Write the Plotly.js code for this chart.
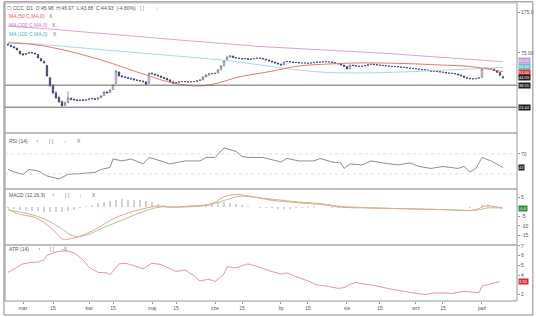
<!DOCTYPE html>
<html><head><meta charset="utf-8">
<script src="https://cdn.plot.ly/plotly-3.0.1.min.js"></script>
<style>html,body{margin:0;padding:0;background:#fff}#c{width:536px;height:317px}</style>
</head><body><div id="c"></div>
<script>
// ---------- DATA ----------
const open = [90.0,88.0,85.5,83.0,78.0,73.8,72.5,74.5,75.8,75.0,
72.5,67.0,63.0,58.0,45.0,38.5,33.0,30.0,27.5,25.4,
27.0,29.4,28.8,28.4,28.0,28.5,28.2,28.5,29.0,29.2,
28.8,29.8,31.0,33.4,33.0,35.2,40.0,50.5,46.8,45.8,
45.2,44.4,43.9,43.0,42.6,42.0,41.3,40.0,49.4,48.6,
47.6,46.6,45.3,44.4,43.0,41.4,40.2,40.8,41.4,41.6,
41.4,41.2,41.4,41.6,42.3,43.0,45.8,47.6,48.6,49.1,
49.5,53.0,57.5,63.8,69.2,70.4,68.2,67.6,66.9,66.2,
66.8,65.6,66.3,66.9,67.6,67.2,66.2,64.9,63.6,62.3,
61.0,59.7,58.8,62.3,62.9,62.3,61.4,61.6,61.0,60.8,
61.0,60.6,61.0,61.6,62.3,62.0,62.7,62.5,62.3,61.6,
60.4,59.7,58.5,56.7,54.2,58.5,57.9,57.3,56.7,57.3,
57.9,59.1,59.7,59.1,58.5,58.2,57.9,57.3,57.1,56.7,
56.5,56.2,55.8,55.6,55.0,54.7,54.4,53.9,53.5,53.1,
52.8,52.2,51.2,51.4,51.0,50.6,50.3,49.6,49.4,49.1,
48.6,47.6,46.6,45.2,44.5,44.0,43.8,44.3,45.3,54.4,
54.7,54.4,53.9,52.2,50.1,45.98];
const high = [90.8,88.6,86.4,83.8,78.6,75.0,75.2,76.4,76.6,75.6,
73.0,67.8,64.5,58.5,46.0,39.5,34.2,31.0,28.2,27.5,
34.0,30.0,29.2,28.9,28.8,28.8,28.7,29.4,29.6,29.5,
29.9,31.2,33.9,34.0,35.2,39.0,52.5,51.5,47.5,46.4,
45.6,44.9,44.3,43.6,43.0,42.5,41.6,50.0,50.2,49.0,
48.0,46.9,45.6,44.7,43.2,41.7,41.0,41.8,41.9,41.9,
41.7,41.7,41.9,42.6,43.2,46.0,47.9,48.9,49.5,49.8,
53.2,57.8,64.2,69.8,72.0,71.0,68.9,68.2,67.4,67.5,
67.2,66.8,67.4,68.0,68.1,67.5,66.5,65.3,64.0,62.7,
61.4,60.0,62.6,63.3,63.2,62.5,62.0,61.9,61.3,61.4,
61.2,61.3,61.9,62.6,62.5,63.0,63.0,62.8,62.5,61.8,
60.7,59.9,58.8,57.0,58.9,58.8,58.2,57.6,57.6,58.1,
59.3,60.0,60.0,59.3,58.8,58.4,58.1,57.6,57.3,57.0,
56.8,56.5,56.2,55.8,55.4,55.0,54.6,54.1,53.8,53.4,
53.0,52.4,51.7,51.6,51.2,50.8,50.5,49.9,49.6,49.3,
48.8,47.9,46.8,45.5,44.8,44.3,44.6,45.3,55.0,55.6,
55.2,54.8,54.2,52.5,50.4,46.97];
const low = [87.6,85.2,82.6,79.2,72.8,71.2,72.0,73.8,74.2,72.8,
67.0,63.0,60.2,46.0,37.2,32.0,29.0,26.6,24.6,24.9,
26.5,28.2,27.9,27.6,27.7,27.8,27.9,28.3,28.7,28.4,
28.5,29.5,30.8,32.4,32.8,35.0,39.6,46.0,45.2,44.8,
44.0,43.4,42.6,42.2,41.7,41.0,38.8,39.8,48.2,47.2,
46.3,44.9,44.0,42.6,41.1,39.8,39.9,40.5,41.0,41.1,
40.9,41.0,41.2,41.4,42.0,42.8,45.5,47.2,48.2,48.7,
49.3,52.8,57.2,63.5,68.4,67.8,67.0,66.4,65.7,65.9,
65.2,65.3,66.0,66.6,66.8,65.8,64.5,63.2,61.9,60.6,
59.3,58.0,58.6,62.0,61.9,61.1,61.1,60.7,60.4,60.5,
60.3,60.4,60.8,61.4,61.7,61.8,62.2,62.0,61.3,60.1,
59.4,58.2,56.4,53.5,54.0,57.6,57.0,56.4,56.5,57.1,
57.7,58.9,58.8,58.2,57.9,57.6,57.0,56.9,56.4,56.2,
55.9,55.5,55.3,54.7,54.4,54.1,53.6,53.2,52.8,52.5,
51.9,50.9,51.0,50.7,50.3,50.0,49.3,49.1,48.8,48.3,
47.3,46.3,44.9,44.2,43.7,43.5,43.6,44.1,45.1,54.0,
54.0,53.5,51.9,49.8,46.9,43.88];
const close = [88.5,85.8,83.2,79.8,73.5,72.0,74.2,75.5,75.0,73.5,
67.6,63.6,61.0,46.6,37.9,32.8,29.6,27.2,25.1,26.7,
29.6,28.7,28.4,28.1,28.4,28.1,28.4,29.0,29.3,28.7,
29.6,30.8,33.5,32.8,34.9,38.7,51.7,46.6,45.7,45.2,
44.3,43.8,42.9,42.5,42.0,41.4,39.1,49.1,48.6,47.6,
46.6,45.2,44.3,42.9,41.4,40.1,40.7,41.4,41.6,41.4,
41.2,41.4,41.6,42.3,42.9,45.7,47.6,48.6,49.1,49.3,
52.8,57.3,63.6,69.0,70.5,68.3,67.6,66.9,66.2,66.9,
65.6,66.2,66.9,67.6,67.2,66.2,64.9,63.6,62.3,61.0,
59.7,58.5,62.3,62.9,62.3,61.4,61.6,61.0,60.8,61.0,
60.6,61.0,61.6,62.3,62.0,62.7,62.5,62.3,61.6,60.4,
59.7,58.5,56.7,53.9,58.5,57.9,57.3,56.7,57.3,57.9,
59.1,59.7,59.1,58.5,58.2,57.9,57.3,57.1,56.7,56.5,
56.2,55.8,55.6,55.0,54.7,54.4,53.9,53.5,53.1,52.8,
52.2,51.2,51.4,51.0,50.6,50.3,49.6,49.4,49.1,48.6,
47.6,46.6,45.2,44.5,44.0,43.8,44.3,45.0,54.4,54.7,
54.4,53.9,52.2,50.1,47.2,44.93];

// moving averages (bar index, value)
const ma50X  = [0,7,17,31,46,55,64,70,77,87,97,107,117,131,144,154,165];
const ma50Y  = [92.2,90.3,81.5,64.9,47.6,40.3,37.9,40.3,45.7,50.9,57.3,59.7,61.0,60.4,58.5,56.7,51.0];
const ma100X = [0,17,44,64,77,91,104,117,131,147,165];
const ma100Y = [94.2,86.7,75.0,67.6,62.3,55.0,50.6,49.6,50.6,52.8,55.6];
const ma200X = [0,15,57,84,124,165];
const ma200Y = [131.0,122.4,98.1,85.7,75.0,62.6];
const levels = [38.55, 24.44];

const rsiX = [0,2,5,7,10,13,17,20,29,31,34,35,38,41,45,47,51,54,59,64,66,69,72,76,78,80,85,91,93,97,102,104,108,111,112,114,118,121,125,130,134,137,141,145,150,152,154,156,158,161,165];
const rsiY = [39,34,29,39,36,26,20,29,33,39,43,60,56,60,50,63,56,50,56,56,63,63,82,75,65,63,63,54,61,56,56,61,54,52,41,50,48,56,52,48,52,45,41,45,41,45,34,41,63,56,43];

const macdX = [0,2,5,9,12,16,18,22,27,31,35,39,45,50,54,61,68,72,76,80,88,96,105,111,122,134,145,154,156,159,161,165];
const macdY = [-1.0,-2.8,-4.2,-5.5,-8.2,-13.5,-16.8,-16.3,-13.5,-10.0,-6.3,-3.7,-1.0,0.5,-0.1,0.5,1.7,5.3,6.6,5.8,3.5,2.3,1.2,-0.1,-0.6,-1.0,-1.4,-1.9,-1.4,0.5,0.5,-0.6];
const sigX = [0,5,9,13,17,22,27,31,36,41,46,51,56,66,71,77,81,88,97,105,111,122,134,145,156,160,165];
const sigY = [-1.5,-3.0,-4.5,-7.0,-10.5,-15.4,-14.4,-11.4,-8.2,-5.0,-1.9,0.0,-0.1,0.8,2.9,5.6,5.3,4.1,2.6,1.6,0.3,-0.5,-1.0,-1.4,-1.7,-0.5,-0.6];
const histX = [0,2,4,6,8,10,12,14,16,18,20,22,24,26,28,30,32,34,36,38,40,42,44,46,48,50,52,54,56,58,60,62,64,66,68,70,72,74,76,78,80,82,84,86,88,90,92,94,96,98,100,102,104,106,108,110,112,114,116,118,120,122,124,126,128,130,132,134,136,138,140,142,144,146,148,150,152,154,156,158,160,162,164];
const histY = [-0.5,-1.2,-1.6,-1.8,-2.0,-2.2,-2.4,-2.6,-2.6,-2.4,-2.0,-1.4,-0.6,0.4,1.2,2.0,2.8,3.3,3.8,4.0,3.9,3.7,3.4,3.0,2.4,1.6,0.9,0.4,0.2,0.3,0.4,0.6,0.9,1.4,2.0,2.5,2.6,2.3,1.8,1.2,0.6,0.2,-0.3,-0.6,-0.8,-0.9,-1.0,-0.9,-0.8,-0.6,-0.4,-0.3,-0.2,-0.2,-0.3,-0.4,-0.4,-0.3,-0.2,-0.1,-0.1,0.0,-0.1,-0.1,0.0,-0.1,-0.1,0.0,0.0,-0.1,-0.1,-0.1,0.0,-0.1,-0.1,-0.2,-0.2,-0.3,-0.2,0.8,1.0,0.6,0.2];

const atrX = [0,2,5,8,10,12,13,16,18,20,22,25,27,30,33,34,37,39,42,45,48,51,54,56,59,62,64,67,69,72,73,76,78,80,84,87,91,93,96,100,103,106,110,112,114,116,119,122,127,131,135,139,142,145,148,152,157,158,161,164];
const atrY = [4.29,4.64,5.16,5.33,5.33,5.58,6.04,6.38,6.48,6.48,6.28,5.58,4.81,4.29,4.23,4.04,5.16,5.23,4.98,4.64,5.23,5.09,4.64,4.39,4.53,3.94,3.41,3.59,3.34,4.11,4.88,4.74,4.98,5.16,4.81,4.46,4.11,4.23,3.84,3.41,3.0,2.89,2.65,2.72,3.07,3.24,3.07,2.95,2.61,2.36,2.18,2.01,2.18,2.18,2.12,2.36,2.18,2.89,3.14,3.34];

const tickIdx = [5,15,27,35,48,56,69,78,91,100,113,124,136,145,158];
const tickTxt = ["mar","15","kwi","15","maj","15","cze","15","lip","15","sie","15","wrz","15","paź"];
const header = "CCC  D1  O:45.98  H:46.97  L:43.88  C:44.93  (-4.80%)";

// ---------- CHART ----------
const idx = close.map((_, i) => i);
const FONT = "Liberation Sans, Arial, sans-serif";
const COL = {ma50:"#e07a6e", ma200:"#d8a6d2", ma100:"#a6dbe4", cand:"#2c3763"};

const traces = [
  {type:"scatter", mode:"lines", x:ma200X, y:ma200Y, xaxis:"x", yaxis:"y", line:{color:COL.ma200, width:1}},
  {type:"scatter", mode:"lines", x:ma100X, y:ma100Y, xaxis:"x", yaxis:"y", line:{color:COL.ma100, width:1, shape:"spline"}},
  {type:"scatter", mode:"lines", x:ma50X, y:ma50Y, xaxis:"x", yaxis:"y", line:{color:COL.ma50, width:1, shape:"spline"}},
  ...levels.map(v => ({type:"scatter", mode:"lines", x:[-1, 170], y:[v, v], xaxis:"x", yaxis:"y", line:{color:"#666", width:1}})),
  {type:"candlestick", x:idx, open:open, high:high, low:low, close:close, xaxis:"x", yaxis:"y",
   increasing:{line:{color:COL.cand, width:0.5}, fillcolor:"#ffffff"},
   decreasing:{line:{color:COL.cand, width:0.5}, fillcolor:COL.cand}, whiskerwidth:0},
  {type:"scatter", mode:"lines", x:rsiX, y:rsiY, xaxis:"x", yaxis:"y2", line:{color:"#8f8f8f", width:1}},
  {type:"bar", x:histX, y:histY, xaxis:"x", yaxis:"y3", marker:{color:"#d2d2d2"}, width:0.7},
  {type:"scatter", mode:"lines", x:sigX, y:sigY, xaxis:"x", yaxis:"y3", line:{color:"#a9c98f", width:1, shape:"spline"}},
  {type:"scatter", mode:"lines", x:macdX, y:macdY, xaxis:"x", yaxis:"y3", line:{color:"#e6a38f", width:1, shape:"spline"}},
  {type:"scatter", mode:"lines", x:atrX, y:atrY, xaxis:"x", yaxis:"y4", line:{color:"#e39a9a", width:1}}
];

const px2x = px => (px - 5) / 512;
const px2y = py => (301 - py) / 298;
const anns = [];
function txt(t, px, py, color, size){
  anns.push({text:t, xref:"paper", yref:"paper", x:px2x(px), y:px2y(py), xanchor:"left", yanchor:"middle",
    showarrow:false, font:{family:FONT, size:size||5, color:color||"#555"}});
}
txt("☐", 5, 8, "#777", 5);
txt(header, 11, 8, "#555", 5);
txt("[ ]", 138, 8, "#888", 5);
txt("↓", 154, 8, "#888", 5);
txt("MA (50 C,MA,0)", 7, 16, "#e05a5a", 5); txt("X", 47, 16, "#777", 5);
txt("MA (200 C,MA,0)", 7, 25, "#c27ab8", 5); txt("X", 50, 25, "#777", 5);
txt("MA (100 C,MA,0)", 7, 34, "#47b3c4", 5); txt("X", 51, 34, "#777", 5);
txt("RSI (14)", 7, 141, "#555", 5); txt("↑", 34, 141, "#777", 5); txt("[ ]", 47, 141, "#777", 5); txt("↓", 62, 141, "#777", 5); txt("X", 75, 141, "#777", 5);
txt("MACD (12,26,9)", 7, 195, "#555", 5); txt("↑", 50, 195, "#777", 5); txt("[ ]", 63, 195, "#777", 5); txt("↓", 77, 195, "#777", 5); txt("X", 90, 195, "#777", 5);
txt("ATR (14)", 7, 249, "#555", 5); txt("↑", 36, 249, "#777", 5); txt("[ ]", 48, 249, "#777", 5); txt("–X", 59, 249, "#777", 5);

function box(yref, yval, bg, text, shift){
  anns.push({text:text, xref:"paper", yref:yref, x:1, y:yval, xanchor:"left", yanchor:"middle", xshift:1, yshift:shift||0,
    showarrow:false, bgcolor:bg, borderpad:0, font:{family:FONT, size:4, color:"#fff"}});
}
const last = a => a[a.length - 1];
box("y", Math.log10(last(ma200Y)), "#c49ad6", last(ma200Y).toFixed(2), 1);
box("y", Math.log10(last(ma100Y)), "#5fc2d3", last(ma100Y).toFixed(2), 1);
box("y", Math.log10(last(ma50Y)), "#d23b3b", last(ma50Y).toFixed(2), -1);
box("y", Math.log10(last(close)), "#1e1e1e", last(close).toFixed(2), 0);
levels.forEach(v => box("y", Math.log10(v), "#1e1e1e", v.toFixed(2), 0));
box("y2", last(rsiY), "#222", String(last(rsiY)), 0);
box("y3", last(macdY), "#2e8b3e", last(macdY).toFixed(1), 0);
box("y4", last(atrY), "#d8283a", last(atrY).toFixed(2), 0);

const shapes = [];
const L = (x0,y0,x1,y1,c,w,dash,yref) => shapes.push({type:"line", xref:"paper", yref:yref||"paper", x0, y0, x1, y1, line:{color:c, width:w, dash:dash||"solid"}});
[0.564, 0.376, 0.188].forEach(y => L(0, y, 1, y, "#a8a8a8", 1.6));
L(0, 0, 1, 0, "#999", 1);
L(0, 0, 0, 1, "#999", 1);
L(1, 0, 1, 1, "#999", 1);
L(0, 1, 1, 1, "#bbb", 1);
L(0, 70, 1, 70, "#d6d6d6", 0.8, "dot", "y2");
L(0, 30, 1, 30, "#d6d6d6", 0.8, "dot", "y2");
shapes.push({type:"rect", xref:"paper", yref:"paper", x0:-0.002, y0:-0.047, x1:1.031, y1:1.004, line:{color:"#888", width:1}});

const yax = (dom, extra) => Object.assign({domain:dom, side:"right", showgrid:false, zeroline:false, showline:false,
  ticks:"outside", ticklen:2, tickcolor:"#999", tickfont:{family:FONT, size:5, color:"#555"}, fixedrange:true}, extra);

const layout = {
  width:536, height:317, margin:{l:5, r:19, t:3, b:16}, paper_bgcolor:"#fff", plot_bgcolor:"#fff",
  showlegend:false, font:{family:FONT},
  xaxis:{domain:[0,1], anchor:"y4", range:[-1, 169.67], rangeslider:{visible:false}, showgrid:false, zeroline:false,
    tickmode:"array", tickvals:tickIdx, ticktext:tickTxt, ticks:"outside", ticklen:2, tickcolor:"#999",
    tickfont:{family:FONT, size:5, color:"#555"}, showline:false},
  yaxis: yax([0.564, 1], {type:"log", range:[1.1569, 2.3239], tickmode:"array", tickvals:[75,175], ticktext:["75.00","175.0"]}),
  yaxis2: yax([0.376, 0.564], {range:[0, 112], tickmode:"array", tickvals:[70], ticktext:["70"]}),
  yaxis3: yax([0.188, 0.376], {range:[-20, 9.47], tickmode:"array", tickvals:[5,-5,-10,-15], ticktext:["5","-5","-10","-15"]}),
  yaxis4: yax([0, 0.188], {range:[1.35, 7.1], tickmode:"array", tickvals:[7,6,5,4,2], ticktext:["7","6","5","4","2"]}),
  annotations:anns, shapes:shapes, bargap:0
};
Plotly.newPlot("c", traces, layout, {staticPlot:true, displayModeBar:false});
</script></body></html>
